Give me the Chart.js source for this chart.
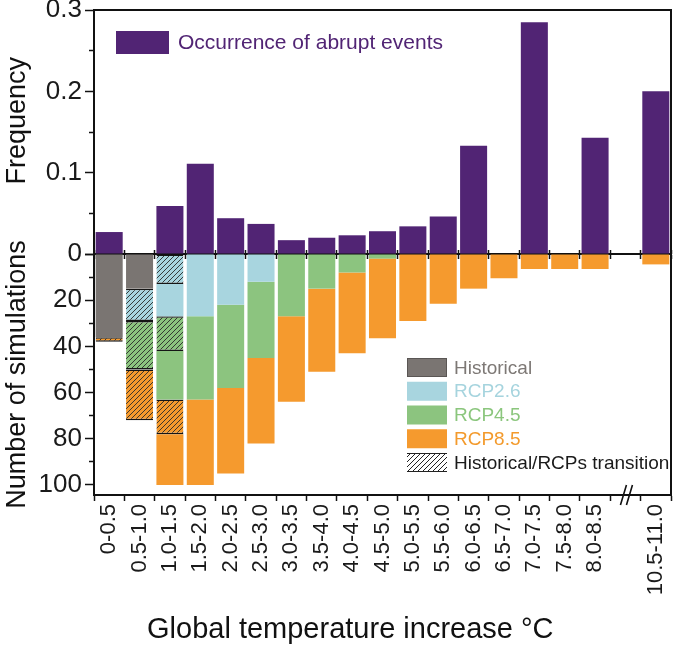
<!DOCTYPE html>
<html><head><meta charset="utf-8">
<script src="https://cdn.jsdelivr.net/npm/chart.js@4.4.1/dist/chart.umd.min.js"></script>
<style>html,body{margin:0;padding:0;background:#fff;}#wrap{width:678px;height:648px;position:relative;}</style>
</head><body><div id="wrap"><canvas id="c"></canvas></div>
<script>
// ---- data ----
const categories = ['0-0.5','0.5-1.0','1.0-1.5','1.5-2.0','2.0-2.5','2.5-3.0','3.0-3.5','3.5-4.0','4.0-4.5','4.5-5.0','5.0-5.5','5.5-6.0','6.0-6.5','6.5-7.0','7.0-7.5','7.5-8.0','8.0-8.5','','10.5-11.0'];
const frequency  = [0.027,null,0.059,0.111,0.044,0.037,0.017,0.020,0.023,0.028,0.034,0.046,0.133,null,0.285,null,0.143,null,0.200];
const historical = [36,15,null,null,null,null,null,null,null,null,null,null,null,null,null,null,null,null,null];
const trans26    = [null,14,13,null,null,null,null,null,null,null,null,null,null,null,null,null,null,null,null];
const rcp26      = [null,null,14,27,22,12,null,null,null,null,null,null,null,null,null,null,null,null,null];
const trans45    = [null,21,15,null,null,null,null,null,null,null,null,null,null,null,null,null,null,null,null];
const rcp45      = [null,null,21,36,36,33,27,15,8,2,null,null,null,null,null,null,null,null,null];
const trans85    = [2,22,15,null,null,null,null,null,null,null,null,null,null,null,null,null,null,null,null];
const rcp85      = [null,null,22,37,37,37,37,36,35,34.5,29,21.5,15,10.5,6.5,6.5,6.5,null,4.5];
const freqTicks  = [0,0.1,0.2,0.3];
const simTicks   = [20,40,60,80,100];
const freqLabel  = 'Occurrence of abrupt events';
const simLabels  = ['Historical','RCP2.6','RCP4.5','RCP8.5','Historical/RCPs transition'];
const breakIndex = 17;

// ---- styles ----
const FONT = '"Liberation Sans", Arial, Helvetica, sans-serif';
const C = {purple:'#512474', hist:'#7a7572', r26:'#a8d5df', r45:'#8cc47f', r85:'#f59a2e', ink:'#111111'};
const TXT = {hist:'#7d7875', r26:'#a6d4de', r45:'#8bc67d', r85:'#f39a2c', ink:'#1a1a1a'};
const NB = '\u00a0';
Chart.defaults.font.family = FONT;
Chart.defaults.color = '#1a1a1a';

function hatch(base){
  const c=document.createElement('canvas'); c.width=c.height=5;
  const g=c.getContext('2d');
  g.fillStyle=base; g.fillRect(0,0,5,5);
  g.strokeStyle='#2a2a2a'; g.lineWidth=0.9;
  g.beginPath(); g.moveTo(0,5); g.lineTo(5,0); g.moveTo(-1,1); g.lineTo(1,-1); g.moveTo(4,6); g.lineTo(6,4); g.stroke();
  return g.createPattern(c,'repeat');
}
function simBar(label,data,bg,hatched){
  return {label,data,yAxisID:'yBot',xAxisID:'x',stack:'s',backgroundColor:bg,
    borderColor:'#151515',borderWidth:hatched?{top:1.5,bottom:1.5,left:0,right:0}:0,borderSkipped:false,
    barPercentage:0.89,categoryPercentage:1};
}
const isMinorFreq = v => Math.abs(v*10-Math.round(v*10))>1e-6;

const legendPlugin = {
  id:'legends',
  afterDraw(chart){
    const {ctx, chartArea:a} = chart;
    ctx.save();
    ctx.fillStyle=C.purple; ctx.fillRect(a.left+22,a.top+21,53,23);
    ctx.font='21px '+FONT; ctx.textBaseline='middle'; ctx.textAlign='left';
    ctx.fillStyle=C.purple; ctx.fillText(freqLabel,a.left+84,a.top+33);
    const boxes=[C.hist,C.r26,C.r45,C.r85,null];
    const cols=[TXT.hist,TXT.r26,TXT.r45,TXT.r85,TXT.ink];
    ctx.font='19px '+FONT;
    for(let k=0;k<5;k++){
      const bx=a.left+313, cy=a.top+357.5+23.75*k, by=cy-9.5;
      if(boxes[k]){ ctx.fillStyle=boxes[k]; ctx.fillRect(bx,by,40,19); }
      else {
        ctx.save(); ctx.beginPath(); ctx.rect(bx,by,40,19); ctx.clip();
        ctx.strokeStyle='#222'; ctx.lineWidth=1;
        for(let s=-20;s<60;s+=5){ ctx.beginPath(); ctx.moveTo(bx+s,by+19); ctx.lineTo(bx+s+19,by); ctx.stroke(); }
        ctx.restore();
        ctx.strokeStyle='#222'; ctx.lineWidth=1.2;
        ctx.beginPath(); ctx.moveTo(bx,by+0.5); ctx.lineTo(bx+40,by+0.5); ctx.moveTo(bx,by+18.5); ctx.lineTo(bx+40,by+18.5); ctx.stroke();
      }
      if(k===0){ ctx.strokeStyle='#5a5654'; ctx.lineWidth=1; ctx.strokeRect(bx+0.5,by+0.5,39,18); }
      ctx.fillStyle=cols[k]; ctx.fillText(simLabels[k],a.left+360,cy+1);
    }
    // axis break marks
    const x=chart.scales.x.getPixelForValue(breakIndex)+1, y=a.bottom;
    ctx.strokeStyle='#111'; ctx.lineWidth=1.6;
    ctx.beginPath();
    ctx.moveTo(x-6,y+10); ctx.lineTo(x,y-10);
    ctx.moveTo(x,y+10); ctx.lineTo(x+6,y-10);
    ctx.stroke();
    ctx.restore();
  }
};

new Chart(document.getElementById('c'),{
  type:'bar',
  data:{
    labels:categories,
    datasets:[
      {label:freqLabel,data:frequency,yAxisID:'yTop',xAxisID:'x',stack:'s',backgroundColor:C.purple,borderWidth:0,barPercentage:0.89,categoryPercentage:1},
      simBar(simLabels[0],historical,C.hist,false),
      simBar('RCP2.6 transition',trans26,hatch(C.r26),true),
      simBar(simLabels[1],rcp26,C.r26,false),
      simBar('RCP4.5 transition',trans45,hatch(C.r45),true),
      simBar(simLabels[2],rcp45,C.r45,false),
      simBar('RCP8.5 transition',trans85,hatch(C.r85),true),
      simBar(simLabels[3],rcp85,C.r85,false)
    ]
  },
  options:{
    responsive:true, maintainAspectRatio:false, animation:false,
    layout:{padding:{top:10,right:7,left:0,bottom:0}},
    plugins:{legend:{display:false},tooltip:{enabled:false}},
    scales:{
      x:{type:'category',position:'bottom',stacked:true,offset:true,
        grid:{display:true,drawOnChartArea:false,offset:true,tickLength:6,tickWidth:1.5,tickColor:C.ink},
        border:{display:true,width:2,color:C.ink},
        ticks:{maxRotation:90,minRotation:90,autoSkip:false,padding:3,font:{size:22},color:'#1a1a1a'},
        title:{display:true,text:'Global temperature increase °C'+NB.repeat(8),font:{size:29},color:'#111',padding:{top:0,bottom:1}},
        afterFit:s=>{s.height=153;s.paddingLeft=0;s.paddingRight=0;}},
      xTop:{type:'category',position:'top',offset:true,
        grid:{display:true,drawOnChartArea:false,drawTicks:false},
        border:{display:true,width:2,color:C.ink},ticks:{display:false},
        afterFit:s=>{s.height=0;s.paddingLeft=0;s.paddingRight=0;}},
      xZeroDown:{type:'category',position:{yTop:0},offset:true,
        grid:{display:true,drawOnChartArea:false,offset:true,tickLength:4,tickWidth:1.5,tickColor:C.ink},
        border:{display:true,width:2,color:C.ink},ticks:{display:false}},
      xZeroUp:{type:'category',position:{yTop:0},offset:true,
        grid:{display:true,drawOnChartArea:false,offset:true,tickLength:-4,tickWidth:1.5,tickColor:C.ink},
        border:{display:false},ticks:{display:false}},
      yTop:{type:'linear',position:'left',stack:'v',stackWeight:244,weight:2,stacked:true,min:0,max:0.3,
        ticks:{stepSize:0.05,autoSkip:false,padding:3,font:{size:26},color:'#1a1a1a',
          callback:v=>freqTicks.some(t=>Math.abs(t-v)<1e-9)?(Math.abs(v)<1e-9?'0':String(+v.toFixed(2))):''},
        grid:{display:true,drawOnChartArea:false,tickLength:9,tickWidth:1.5,tickColor:C.ink,
          tickBorderDash:ctx=>(ctx.tick&&isMinorFreq(ctx.tick.value))?[0,4,20]:[]},
        border:{display:true,width:2,color:C.ink},
        title:{display:true,text:NB.repeat(3)+'Frequency',font:{size:27},color:'#111',padding:{top:1,bottom:0}},
        afterFit:s=>{s.width=94;s.paddingTop=0;s.paddingBottom=0;}},
      yBot:{type:'linear',position:'left',stack:'v',stackWeight:241,weight:1,stacked:true,reverse:true,min:0,max:104.33,
        afterBuildTicks:s=>{const t=[];for(let v=0;v<=100;v+=10)t.push({value:v});s.ticks=t;},
        ticks:{stepSize:10,includeBounds:false,autoSkip:false,padding:3,font:{size:26},color:'#1a1a1a',
          callback:v=>simTicks.includes(Math.round(v))?String(Math.round(v)):''},
        grid:{display:true,drawOnChartArea:false,tickLength:9,tickWidth:1.5,tickColor:C.ink,
          tickBorderDash:ctx=>(ctx.tick&&Math.round(ctx.tick.value)%20!==0)?[0,4,20]:[]},
        border:{display:true,width:2,color:C.ink},
        title:{display:true,text:'Number of simulations',font:{size:27},color:'#111',padding:{top:1,bottom:0}},
        afterFit:s=>{s.width=94;s.paddingTop=0;s.paddingBottom=0;}},
      yR:{type:'linear',position:'right',
        grid:{display:true,drawOnChartArea:false,drawTicks:false},
        border:{display:true,width:2,color:C.ink},ticks:{display:false},
        afterFit:s=>{s.width=0;s.paddingTop=0;s.paddingBottom=0;}}
    }
  },
  plugins:[legendPlugin]
});
</script></body></html>
